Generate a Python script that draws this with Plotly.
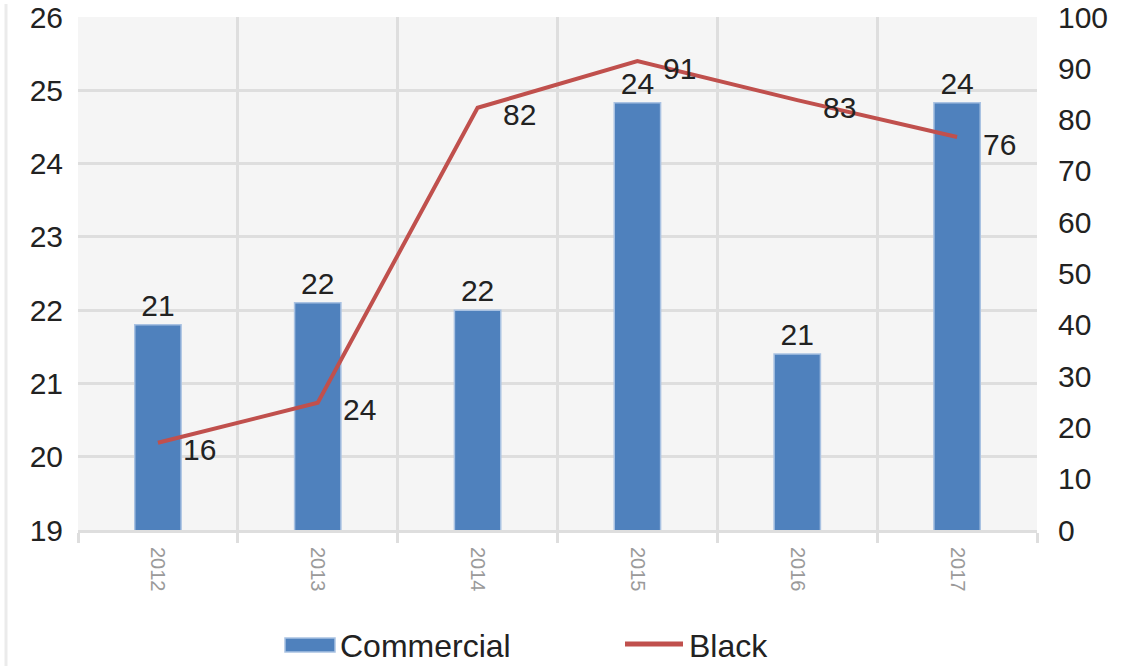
import plotly.graph_objects as go

years = ["2012", "2013", "2014", "2015", "2016", "2017"]
commercial = [21.8, 22.1, 22.0, 24.83, 21.4, 24.83]
commercial_labels = ["21", "22", "22", "24", "21", "24"]
black = [17.0, 24.8, 82.3, 91.4, 83.8, 76.6]
black_labels = ["16", "24", "82", "91", "83", "76"]

FONT = "Liberation Sans, Arial, sans-serif"
BLUE = "#4f81bd"
RED = "#c0504d"
GRID = "#dedede"

fig = go.Figure()

fig.add_trace(go.Bar(
    x=years, y=commercial, name="Commercial",
    marker=dict(color=BLUE, line=dict(color="#a9c2e2", width=1.5)),
    width=0.29,
    text=commercial_labels, textposition="outside",
    textfont=dict(family=FONT, size=30, color="#222"),
    cliponaxis=False, showlegend=False,
))

fig.add_trace(go.Scatter(
    x=years, y=black, name="Black", yaxis="y2", mode="lines",
    line=dict(color=RED, width=4), showlegend=False,
))

for i, (v, lab) in enumerate(zip(black, black_labels)):
    fig.add_annotation(x=i, y=v, xref="x", yref="y2", text=lab, showarrow=False,
                       xshift=42, yshift=-7,
                       font=dict(family=FONT, size=30, color="#222"))

# manual legend
ML, MR, MT, MB = 78, 93, 17, 136
W, H = 1130, 666
PW, PH = W - ML - MR, H - MT - MB


def px(x):
    return (x - ML) / PW


def py(y):
    return (H - MB - y) / PH


fig.add_shape(type="rect", xref="paper", yref="paper",
              x0=px(285), x1=px(335), y0=py(638), y1=py(652),
              fillcolor=BLUE, line=dict(color="#a9c2e2", width=1.5))
fig.add_annotation(xref="paper", yref="paper", x=px(338), y=py(646), xanchor="left",
                   yanchor="middle", text="Commercial", showarrow=False,
                   font=dict(family=FONT, size=32, color="#222"))
fig.add_shape(type="line", xref="paper", yref="paper",
              x0=px(625), x1=px(683), y0=py(644), y1=py(644),
              line=dict(color=RED, width=5))
fig.add_annotation(xref="paper", yref="paper", x=px(687), y=py(646), xanchor="left",
                   yanchor="middle", text="Black", showarrow=False,
                   font=dict(family=FONT, size=32, color="#222"))
# faint left border
fig.add_shape(type="line", xref="paper", yref="paper",
              x0=px(6), x1=px(6), y0=py(4), y1=py(666),
              line=dict(color="#ebebeb", width=3))

fig.update_layout(
    width=W, height=H,
    margin=dict(l=ML, r=MR, t=MT, b=MB, autoexpand=False),
    paper_bgcolor="white", plot_bgcolor="#f5f5f5",
    showlegend=False, bargap=0.71,
    xaxis=dict(
        type="category", tickson="boundaries", showgrid=True, gridcolor=GRID, gridwidth=3,
        ticks="outside", ticklen=10, tickcolor=GRID, tickwidth=3,
        showline=True, linecolor=GRID, linewidth=3, automargin=False,
        tickangle=90, tickfont=dict(family=FONT, size=20, color="#9a9a9a"),
        ticklabelstandoff=10, range=[-0.5, 5.5],
    ),
    yaxis=dict(
        range=[19, 26], dtick=1, showgrid=True, gridcolor=GRID, gridwidth=3,
        zeroline=False, ticks="", tickfont=dict(family=FONT, size=30, color="#222"),
        ticklabelstandoff=14, automargin=False,
    ),
    yaxis2=dict(
        range=[0, 100], dtick=10, overlaying="y", side="right", showgrid=False,
        zeroline=False, ticks="", tickfont=dict(family=FONT, size=30, color="#222"),
        ticklabelstandoff=20, automargin=False,
    ),
)

fig.write_html("out.html")
